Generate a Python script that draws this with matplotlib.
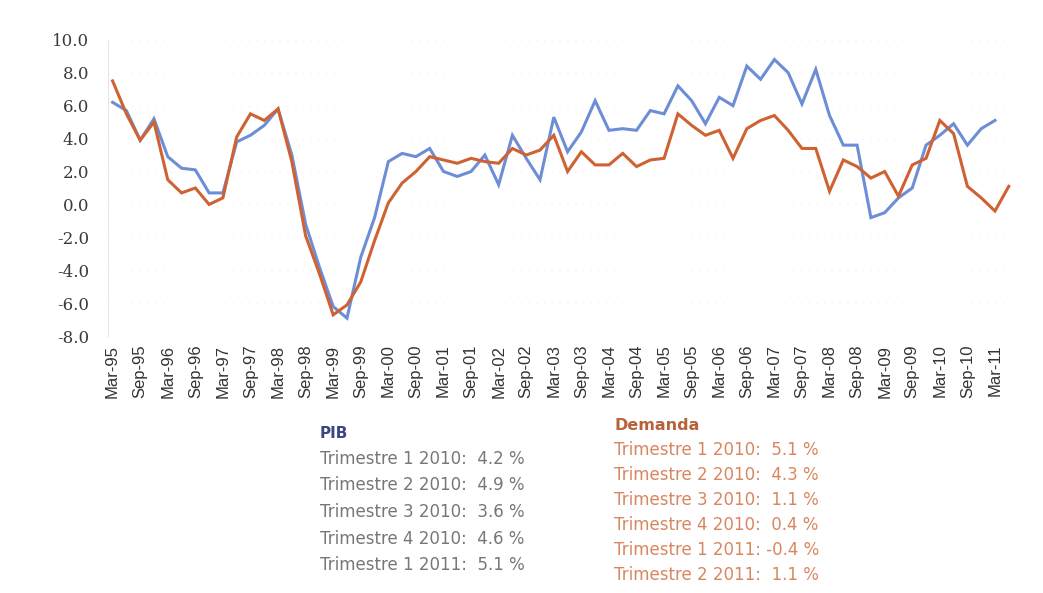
import numpy as np
import matplotlib
matplotlib.use("Agg")
from matplotlib import pyplot as plt

# quarterly growth rates (%), Mar-95 .. Jun-11
years = list(range(95, 100)) + list(range(0, 12))
quarters = []
for yy in years:
    for m in ['Mar', 'Jun', 'Sep', 'Dec']:
        quarters.append(f'{m}-{yy:02d}')
quarters = quarters[:66]

pib = [6.2, 5.7, 3.9, 5.2, 2.9, 2.2, 2.1, 0.7, 0.7, 3.8,
       4.2, 4.8, 5.8, 3.0, -1.2, -3.8, -6.2, -6.9, -3.2, -0.8,
       2.6, 3.1, 2.9, 3.4, 2.0, 1.7, 2.0, 3.0, 1.2, 4.2,
       2.8, 1.5, 5.3, 3.2, 4.4, 6.3, 4.5, 4.6, 4.5, 5.7,
       5.5, 7.2, 6.3, 4.9, 6.5, 6.0, 8.4, 7.6, 8.8, 8.0,
       6.1, 8.2, 5.4, 3.6, 3.6, -0.8, -0.5, 0.4, 1.0, 3.6,
       4.2, 4.9, 3.6, 4.6, 5.1]

demanda = [7.5, 5.5, 3.9, 5.0, 1.5, 0.7, 1.0, 0.0, 0.4, 4.1,
           5.5, 5.1, 5.8, 2.6, -1.9, -4.2, -6.7, -6.1, -4.7, -2.2,
           0.1, 1.3, 2.0, 2.9, 2.7, 2.5, 2.8, 2.6, 2.5, 3.4,
           3.0, 3.3, 4.2, 2.0, 3.2, 2.4, 2.4, 3.1, 2.3, 2.7,
           2.8, 5.5, 4.8, 4.2, 4.5, 2.8, 4.6, 5.1, 5.4, 4.5,
           3.4, 3.4, 0.8, 2.7, 2.3, 1.6, 2.0, 0.5, 2.4, 2.8,
           5.1, 4.3, 1.1, 0.4, -0.4, 1.1]

pib_text = ['Trimestre 1 2010:  4.2 %', 'Trimestre 2 2010:  4.9 %',
            'Trimestre 3 2010:  3.6 %', 'Trimestre 4 2010:  4.6 %',
            'Trimestre 1 2011:  5.1 %']
dem_text = ['Trimestre 1 2010:  5.1 %', 'Trimestre 2 2010:  4.3 %',
            'Trimestre 3 2010:  1.1 %', 'Trimestre 4 2010:  0.4 %',
            'Trimestre 1 2011: -0.4 %', 'Trimestre 2 2011:  1.1 %']

blue = '#6d8ed6'
orange = '#cf6232'

fig = plt.figure(figsize=(10.43, 5.93), dpi=100)
ax = fig.add_axes([0.104, 0.433, 0.883, 0.50])

ax.plot(range(len(pib)), pib, color=blue, lw=2.2, solid_joinstyle='miter')
ax.plot(range(len(demanda)), demanda, color=orange, lw=2.2, solid_joinstyle='miter')

ax.set_ylim(-8, 10)
ax.set_xlim(-0.3, 66.5)
ax.set_yticks(np.arange(-8, 10.1, 2))
ax.set_yticklabels([f'{v:.1f}' for v in np.arange(-8, 10.1, 2)],
                   family=['DejaVu Serif'], fontsize=12, color='#3a3a3a')
ax.set_xticks(range(0, 65, 2))
ax.set_xticklabels(quarters[0:65:2], rotation=90,
                   family=['Liberation Sans', 'DejaVu Sans'], fontsize=12, color='#333333')
ax.tick_params(length=0, pad=6)
ax.tick_params(axis='y', pad=14)
ax.grid(axis='y', color='#eeeeee', lw=0.8, ls=(0, (1, 6)))
for s in ['top', 'right', 'bottom']:
    ax.spines[s].set_visible(False)
ax.spines['left'].set_color('#e6e6e6')

tf = ['DejaVu Sans']
fig.text(320 / 1043, 1 - 433 / 593, 'PIB', family=tf, fontsize=11, fontweight='bold',
         color='#3a4780', va='center')
for i, t in enumerate(pib_text):
    fig.text(320 / 1043, 1 - (459 + 26.5 * i) / 593, t, family=tf, fontsize=12,
             color='#777777', va='center')

fig.text(614 / 1043, 1 - 425 / 593, 'Demanda', family=tf, fontsize=11.5, fontweight='bold',
         color='#b8623c', va='center')
for i, t in enumerate(dem_text):
    fig.text(614 / 1043, 1 - (450 + 24.9 * i) / 593, t, family=tf, fontsize=12,
             color='#d98660', va='center')

fig.savefig('out.png', dpi=100)
